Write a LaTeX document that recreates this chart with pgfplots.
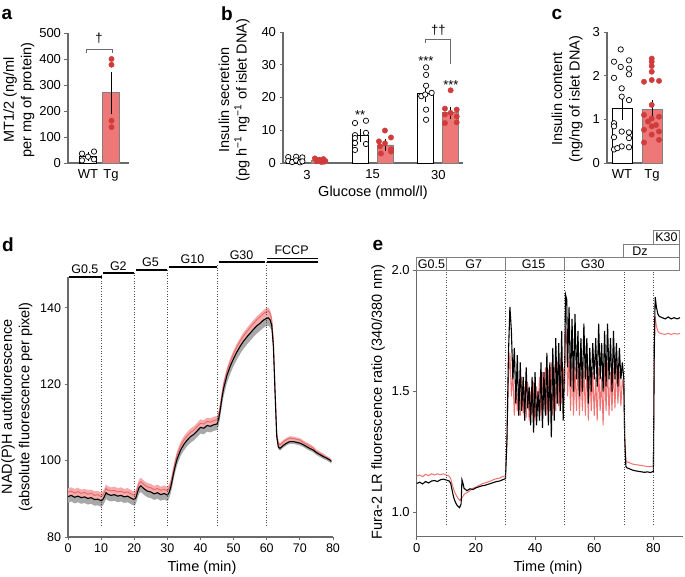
\documentclass[border=0pt]{standalone}
\usepackage{pgfplots}
\pgfplotsset{compat=1.18}
\usepackage{pgfplotstable}
\usepgfplotslibrary{fillbetween}
\usepackage{fontspec}
\setmainfont{Liberation Sans}
\definecolor{tgbar}{HTML}{EE7878}
\definecolor{tgdot}{HTML}{D03C3C}
\definecolor{axgray}{HTML}{6A6A6A}
\definecolor{boxgray}{HTML}{808080}
\definecolor{dred}{HTML}{E46A6A}
\definecolor{dpink}{HTML}{F5ABAB}
\definecolor{dgrey}{HTML}{A8A8A8}
\definecolor{ered}{HTML}{F07272}
\newcommand{\lab}{\fontsize{14.5}{17.5}\selectfont}
\newcommand{\tck}{\fontsize{13}{14}\selectfont}
\newcommand{\cnd}{\fontsize{12.5}{13}\selectfont}
\newcommand{\plab}{\fontsize{19}{20}\bfseries\selectfont}
\tikzset{vdot/.style={dotted, black!70, line width=0.6pt}}

\pgfplotstableread{
t blk glo red rhi
0 90.6 89.0 91.8 92.8
1 90.9 89.3 92.0 93.0
2 90.4 88.8 91.5 92.6
3 90.7 89.1 91.9 92.9
4 90.3 88.7 91.4 92.4
5 90.5 88.9 91.7 92.6
6 90.1 88.5 91.2 92.3
7 90.3 88.7 91.5 92.4
8 89.8 88.2 90.9 92.0
9 89.9 88.3 91.1 92.0
10 89.5 87.9 90.6 91.7
10.5 89.8 88.2 90.9 91.9
11 90.6 89.0 91.7 92.7
11.5 91.6 90.0 92.8 93.8
12 91.2 89.6 92.3 93.3
13 90.9 89.3 92.1 93.0
14 91.1 89.5 92.2 93.2
15 90.7 89.1 91.8 92.8
16 90.9 89.3 92.0 93.0
17 90.5 88.9 91.6 92.6
18 90.7 89.1 91.8 92.8
19 90.2 88.6 91.3 92.3
20 89.8 88.2 90.9 91.9
20.5 90.3 88.7 91.4 92.4
21 91.8 90.2 92.9 93.9
21.5 93.0 91.4 94.1 95.1
22 93.4 91.8 94.5 95.5
22.5 93.0 91.4 94.1 95.1
23 92.6 91.0 93.7 94.7
24 92.0 90.4 93.1 94.1
25 91.8 90.2 92.9 93.9
26 91.3 89.7 92.4 93.4
27 91.6 90.0 92.7 93.7
28 91.1 89.5 92.2 93.2
29 91.4 89.8 92.5 93.5
30 91.0 89.4 92.1 93.1
30.5 91.6 90.0 92.7 93.7
31 93.0 91.4 94.1 95.1
31.5 95.0 93.4 96.1 97.1
32 97.2 95.6 98.3 99.3
32.5 99.0 97.4 100.1 101.1
33 100.6 99.0 101.7 102.7
34 102.8 101.2 103.9 104.9
35 104.3 102.7 105.4 106.4
36 105.4 103.8 106.5 107.5
37 106.3 104.7 107.4 108.4
38 106.9 105.3 108.0 109.0
39 107.8 106.2 108.9 109.9
40 108.7 107.1 109.8 110.8
41 108.5 106.9 109.6 110.6
42 109.2 107.6 110.3 111.3
43 109.0 107.4 110.1 111.1
44 109.4 107.8 110.5 111.5
45 109.6 108.0 110.7 111.7
45.5 111.0 109.2 112.0 113.0
46 113.5 111.6 114.5 115.5
46.5 116.5 114.6 117.6 118.5
47 119.0 117.0 120.1 121.0
48 122.4 120.4 123.5 124.4
49 124.8 122.8 126.0 126.9
50 126.8 124.8 128.0 128.9
51 128.5 126.5 129.8 130.7
52 130.0 128.0 131.3 132.2
53 131.3 129.3 132.7 133.6
54 132.4 130.4 133.8 134.7
55 133.4 131.4 134.9 135.8
56 134.4 132.4 135.9 136.8
57 135.3 133.3 136.9 137.8
58 136.0 134.0 137.7 138.6
59 136.8 134.8 138.5 139.4
60 137.3 135.3 139.1 140.0
60.5 137.4 135.4 139.2 140.1
61 136.9 134.9 138.6 139.5
61.5 135.5 134.0 137.0 137.9
62 130.0 128.5 131.5 132.4
62.5 118.0 116.5 119.2 120.1
63 106.5 105.3 107.5 108.2
63.5 103.6 103.0 104.5 105.0
64 103.2 102.6 104.1 104.6
65 104.0 103.4 104.9 105.4
66 104.6 104.0 105.5 106.0
67 105.0 104.4 105.9 106.4
68 105.0 104.4 105.8 106.3
69 104.8 104.2 105.6 106.1
70 104.6 104.0 105.4 105.9
71 104.2 103.6 104.8 105.3
72 103.7 103.1 104.3 104.8
73 103.2 102.6 103.8 104.3
74 102.8 102.2 103.3 103.8
75 102.1 101.5 102.4 102.9
76 101.6 101.0 101.9 102.4
77 101.1 100.5 101.4 101.9
78 100.7 100.1 100.8 101.3
79 100.2 99.6 100.3 100.8
79.5 99.8 99.2 99.9 100.4
}\dtab

\pgfplotstableread{
t blk red
0 1.120 1.150
1 1.125 1.155
2 1.118 1.148
3 1.128 1.158
4 1.122 1.152
5 1.130 1.160
6 1.132 1.155
7 1.128 1.160
8 1.135 1.156
9 1.138 1.160
10 1.134 1.155
11 1.130 1.150
11.5 1.120 1.140
12 1.090 1.115
12.5 1.062 1.095
13 1.045 1.080
13.5 1.032 1.068
14 1.025 1.058
14.5 1.020 1.050
15 1.035 1.055
15.3 1.135 1.060
15.7 1.118 1.068
16 1.100 1.075
17 1.090 1.082
18 1.098 1.090
19 1.095 1.100
20 1.102 1.105
21 1.106 1.112
22 1.110 1.118
23 1.112 1.122
24 1.116 1.126
25 1.120 1.130
26 1.124 1.136
27 1.128 1.140
28 1.130 1.142
29 1.135 1.148
30 1.140 1.152
30.5 1.300 1.300
31 1.650 1.550
31.5 1.850 1.660
32 1.750 1.480
32.5 1.550 1.580
33 1.680 1.400
33.5 1.450 1.550
34 1.650 1.420
34.5 1.400 1.530
35 1.620 1.400
35.5 1.420 1.560
36 1.560 1.410
36.5 1.380 1.520
37 1.600 1.390
37.5 1.430 1.540
38 1.520 1.380
38.5 1.360 1.500
39 1.560 1.400
39.5 1.330 1.540
40 1.580 1.380
40.5 1.360 1.520
41 1.500 1.420
41.5 1.380 1.560
42 1.620 1.400
42.5 1.350 1.580
43 1.580 1.420
43.5 1.400 1.600
44 1.660 1.400
44.5 1.360 1.590
45 1.620 1.420
45.5 1.310 1.620
46 1.680 1.400
46.5 1.380 1.600
47 1.720 1.420
47.5 1.450 1.620
48 1.700 1.440
48.5 1.420 1.640
49 1.750 1.450
49.5 1.380 1.600
50 1.600 1.500
50.3 1.900 1.770
50.7 1.880 1.700
51 1.600 1.480
51.5 1.850 1.650
52 1.520 1.420
52.5 1.800 1.620
53 1.500 1.400
53.5 1.820 1.600
54 1.550 1.420
54.5 1.750 1.620
55 1.480 1.400
55.5 1.720 1.580
56 1.500 1.420
56.5 1.780 1.600
57 1.550 1.400
57.5 1.720 1.620
58 1.450 1.380
58.5 1.680 1.600
59 1.500 1.420
59.5 1.700 1.580
60 1.550 1.400
60.5 1.720 1.560
61 1.520 1.380
61.5 1.780 1.600
62 1.550 1.420
62.5 1.700 1.560
63 1.500 1.360
63.5 1.750 1.600
64 1.520 1.420
64.5 1.780 1.620
65 1.550 1.400
65.5 1.720 1.580
66 1.500 1.420
66.5 1.750 1.600
67 1.550 1.430
67.5 1.700 1.620
68 1.520 1.450
68.5 1.680 1.580
69 1.550 1.440
69.5 1.620 1.550
70 1.550 1.500
70.3 1.300 1.320
70.7 1.190 1.215
71 1.185 1.210
72 1.180 1.205
73 1.175 1.200
74 1.172 1.198
75 1.170 1.196
76 1.168 1.194
77 1.166 1.192
78 1.168 1.190
79 1.165 1.190
80 1.170 1.192
80.3 1.700 1.650
80.6 1.890 1.810
81 1.850 1.770
81.5 1.820 1.750
82 1.810 1.742
83 1.805 1.738
84 1.800 1.736
85 1.808 1.740
86 1.800 1.736
87 1.805 1.740
88 1.800 1.737
89 1.805 1.740
}\etab

\pgfplotsset{
  base/.style={scale only axis, axis lines*=left,
    axis line style={axgray, line width=1.1pt, -},
    tick style={axgray, line width=0.9pt}, tick align=outside,
    major tick length=3.5pt, tick label style={font=\tck},
    /pgf/number format/assume math mode=true,
    clip=false, anchor=south west},
  wt/.style={only marks, mark=*, mark size=2.7pt,
    mark options={fill=white, draw=black, line width=0.7pt}},
  tg/.style={only marks, mark=*, mark size=2.7pt,
    mark options={fill=tgdot, draw=tgdot}},
  eb/.style={draw=none, mark=none, error bars/.cd, y dir=both, y explicit,
    error bar style={draw=black, line width=0.9pt},
    error mark options={draw=black, mark size=3pt, line width=0.9pt}},
  wtbar/.style={ybar, bar shift=0pt, fill=white, draw=black, line width=0.8pt},
  tgbarst/.style={ybar, bar shift=0pt, fill=tgbar, draw=boxgray, line width=0.8pt},
}

\begin{document}
\begin{tikzpicture}

% ---------- panel a ----------
\begin{axis}[base, at={(68pt,414pt)}, width=61pt, height=130pt,
  xmin=0, xmax=61, ymin=0, ymax=500, ytick={0,100,...,500},
  xtick={20,43}, xticklabels={WT,Tg}, xtick style={draw=none}]
\addplot[wtbar, bar width=17pt] coordinates {(20,26)};
\addplot[tgbarst, bar width=17pt] coordinates {(43,270)};
\addplot[wt] coordinates {(14,36) (26,44) (14,10) (26,14) (20,24)};
\addplot[tg] coordinates {(43.5,400) (43.5,378) (43.5,163) (43.5,138)};
\addplot[eb] coordinates {(20,26) +- (0,6) (43,270) +- (0,70)};
\draw[axgray, line width=0.8pt] (axis cs:18,423) |- (axis cs:44,438) -- (axis cs:44,423);
\node[font=\tck] at (axis cs:31,478) {†};
\end{axis}

% ---------- panel b ----------
\begin{axis}[base, at={(283pt,414pt)}, width=180pt, height=131pt,
  xmin=-0.365, xmax=2.375, ymin=0, ymax=40, ytick={0,10,...,40},
  xtick={0,1,2}, xticklabels={3,15,30}, xtick style={draw=none}]
\addplot[wtbar, bar width=16pt] coordinates {(-0.19,1.1) (0.81,8.3) (1.81,21.4)};
\addplot[tgbarst, bar width=16pt] coordinates {(0.19,0.8) (1.19,5.5) (2.19,15.3)};
\addplot[wt] coordinates {(-0.285,1.8) (-0.285,0.6) (-0.225,0.3) (-0.165,1.9) (-0.165,0.8) (-0.105,0.2) (-0.07,1.7) (-0.07,0.5)
  (0.731,12.2) (0.898,12.9) (0.898,9.2) (0.731,8.5) (0.731,7.6) (0.731,6.1) (0.898,5.8) (0.731,4.0)
  (1.813,29.2) (1.813,26.9) (1.813,23.6) (1.74,20.4) (1.898,21.4) (1.80,20.9) (1.813,16.3) (1.813,13.2)};
\addplot[tg] coordinates {(0.12,1.4) (0.15,0.5) (0.19,1.0) (0.22,0.3) (0.25,1.2) (0.28,0.6) (0.16,0.9) (0.26,0.4)
  (1.187,9.9) (1.279,7.8) (1.096,6.6) (1.187,6.0) (1.111,5.1) (1.279,4.2) (1.126,2.9) (1.279,3.5)
  (2.187,22.2) (2.10,16.6) (2.279,16.3) (2.187,15.3) (2.10,14.8) (2.279,14.2) (2.10,12.2) (2.279,12.4)};
\addplot[eb] coordinates {(-0.19,1.1) +- (0,0.3) (0.81,8.3) +- (0,1.1) (1.81,21.4) +- (0,1.9)
  (0.19,0.8) +- (0,0.15) (1.19,5.5) +- (0,0.9) (2.19,15.3) +- (0,1.0)};
\draw[axgray, line width=0.8pt] (axis cs:1.81,36.6) |- (axis cs:2.19,37.8) -- (axis cs:2.19,30.2);
\node[font=\tck] at (axis cs:2.0,40.6) {††};
\node[font=\tck] at (axis cs:0.81,14.6) {**};
\node[font=\tck] at (axis cs:1.81,31.0) {***};
\node[font=\tck] at (axis cs:2.19,23.9) {***};
\end{axis}

% ---------- panel c ----------
\begin{axis}[base, at={(607pt,414pt)}, width=56pt, height=131pt,
  xmin=0, xmax=56, ymin=0, ymax=3, ytick={0,1,2,3},
  xtick={15,45}, xticklabels={WT,Tg}, xtick style={draw=none}]
\addplot[wtbar, bar width=20pt] coordinates {(15,1.25)};
\addplot[tgbarst, bar width=20pt] coordinates {(45,1.22)};
\addplot[wt] coordinates {(13.7,2.6) (7,2.32) (22,2.35) (13.7,2.2) (22,2.16) (22,2.03) (7,1.95) (14.7,1.71)
  (14.7,1.52) (22,1.44) (7,0.91) (7,0.84) (14.7,0.72) (22,0.70) (7,0.59) (22,0.57) (14.7,0.38) (22,0.36) (7,0.31) (10.3,0.34)};
\addplot[tg] coordinates {(44.7,2.39) (44.7,2.32) (44.7,2.22) (44.7,2.09) (37,1.86) (44.7,1.90) (52,1.88) (44.7,1.33)
  (37,1.10) (52,1.06) (44.7,1.02) (41,0.95) (49,0.87) (44.7,0.84) (37,0.76) (52,0.72) (44.7,0.65) (37,0.47) (52,0.53)};
\addplot[eb] coordinates {(15,1.25) +- (0,0.2) (45,1.22) +- (0,0.16)};
\end{axis}

% ---------- panel d ----------
\begin{axis}[base, at={(68pt,40pt)}, width=265pt, height=259.6pt,
  xmin=0, xmax=80, ymin=80, ymax=148, ytick={80,100,120,140},
  xtick={0,10,...,80}, tick label style={font=\fontsize{12.5}{13}\selectfont}]
\addplot[name path=dA, draw=none] table[x=t,y=rhi]{\dtab};
\addplot[name path=dB, draw=none] table[x=t,y=blk]{\dtab};
\addplot[name path=dC, draw=none] table[x=t,y=glo]{\dtab};
\addplot[dpink, draw=none] fill between[of=dA and dB];
\addplot[dgrey, draw=none] fill between[of=dB and dC];
\addplot[dred, line width=0.9pt] table[x=t,y=red]{\dtab};
\addplot[black, line width=1.1pt] table[x=t,y=blk]{\dtab};
\draw[vdot] (axis cs:10,83) -- (axis cs:10,148.6);
\draw[vdot] (axis cs:20,83) -- (axis cs:20,149.5);
\draw[vdot] (axis cs:30,83) -- (axis cs:30,150.4);
\draw[vdot] (axis cs:45,83) -- (axis cs:45,151.5);
\draw[vdot] (axis cs:60,83) -- (axis cs:60,152.0);
\draw[line width=1.8pt] (axis cs:0.3,148.1) -- (axis cs:10.3,148.1);
\draw[line width=1.8pt] (axis cs:10.7,149.1) -- (axis cs:19.9,149.1);
\draw[line width=1.8pt] (axis cs:20.5,150.0) -- (axis cs:29.8,150.0);
\draw[line width=1.8pt] (axis cs:30.6,150.8) -- (axis cs:45.0,150.8);
\draw[line width=1.8pt] (axis cs:45.6,152.0) -- (axis cs:59.5,152.0);
\draw[line width=1.3pt] (axis cs:60.0,152.0) -- (axis cs:75.4,152.0);
\draw[line width=1.3pt] (axis cs:60.0,152.9) -- (axis cs:75.4,152.9);
\node[font=\cnd, anchor=base, inner sep=0pt] at (axis cs:5.1,148.9) {G0.5};
\node[font=\cnd, anchor=base, inner sep=0pt] at (axis cs:15.2,149.9) {G2};
\node[font=\cnd, anchor=base, inner sep=0pt] at (axis cs:24.9,150.8) {G5};
\node[font=\cnd, anchor=base, inner sep=0pt] at (axis cs:37.6,151.6) {G10};
\node[font=\cnd, anchor=base, inner sep=0pt] at (axis cs:52.4,152.8) {G30};
\node[font=\cnd, anchor=base, inner sep=0pt] at (axis cs:67.5,153.9) {FCCP};
\end{axis}

% ---------- panel e ----------
\begin{axis}[base, at={(416.7pt,40.3pt)}, width=266.3pt, height=266.2pt,
  xmin=0, xmax=90, ymin=0.9, ymax=2.0, ytick={1.0,1.5,2.0},
  yticklabel style={/pgf/number format/.cd, fixed, fixed zerofill, precision=1},
  xtick={0,20,...,80}]
\addplot[ered, line width=1.0pt] table[x=t,y=red]{\etab};
\addplot[black, line width=1.1pt] table[x=t,y=blk]{\etab};
\draw[vdot] (axis cs:10,0.95) -- (axis cs:10,2.0);
\draw[vdot] (axis cs:30,0.95) -- (axis cs:30,2.0);
\draw[vdot] (axis cs:50,0.95) -- (axis cs:50,2.0);
\draw[vdot] (axis cs:70,0.95) -- (axis cs:70,2.0);
\draw[vdot] (axis cs:80,0.95) -- (axis cs:80,2.0);
\draw[boxgray, line width=0.8pt, fill=white] (axis cs:0,2.0) rectangle (axis cs:88.8,2.055);
\draw[boxgray, line width=0.8pt] (axis cs:10,2.0) -- (axis cs:10,2.055);
\draw[boxgray, line width=0.8pt] (axis cs:30,2.0) -- (axis cs:30,2.055);
\draw[boxgray, line width=0.8pt] (axis cs:50,2.0) -- (axis cs:50,2.055);
\draw[boxgray, line width=0.8pt, fill=white] (axis cs:70,2.055) rectangle (axis cs:88.8,2.107);
\draw[boxgray, line width=0.8pt, fill=white] (axis cs:80,2.107) rectangle (axis cs:88.8,2.165);
\node[font=\cnd] at (axis cs:5,2.0275) {G0.5};
\node[font=\cnd] at (axis cs:19.3,2.0275) {G7};
\node[font=\cnd] at (axis cs:39.5,2.0275) {G15};
\node[font=\cnd] at (axis cs:59.5,2.0275) {G30};
\node[font=\cnd] at (axis cs:75.5,2.081) {Dz};
\node[font=\cnd] at (axis cs:84.4,2.136) {K30};
\end{axis}

% ---------- labels ----------
\node[rotate=90, align=center, font=\lab] at (19pt,477pt) {MT1/2 (ng/ml\\per mg of protein)};
\node[rotate=90, align=center, font=\lab] at (234pt,477pt) {Insulin secretion\\(pg h\textsuperscript{−1} ng\textsuperscript{−1} of islet DNA)};
\node[rotate=90, align=center, font=\lab] at (567pt,478pt) {Insulin content\\(ng/ng of islet DNA)};
\node[rotate=90, align=center, font=\lab] at (17pt,170pt) {NAD(P)H autofluorescence\\(absolute fluorescence per pixel)};
\node[rotate=90, font=\lab] at (378pt,175pt) {Fura-2 LR fluorescence ratio (340/380 nm)};
\node[font=\lab] at (373pt,384pt) {Glucose (mmol/l)};
\node[font=\lab] at (202pt,9pt) {Time (min)};
\node[font=\lab] at (548pt,9pt) {Time (min)};
\node[font=\plab] at (7pt,563pt) {a};
\node[font=\plab] at (227pt,563pt) {b};
\node[font=\plab] at (557pt,563pt) {c};
\node[font=\plab] at (8pt,332pt) {d};
\node[font=\plab] at (378pt,332pt) {e};
\pgfresetboundingbox
\path[use as bounding box] (0,0) rectangle (685pt,577pt);
\end{tikzpicture}
\end{document}
